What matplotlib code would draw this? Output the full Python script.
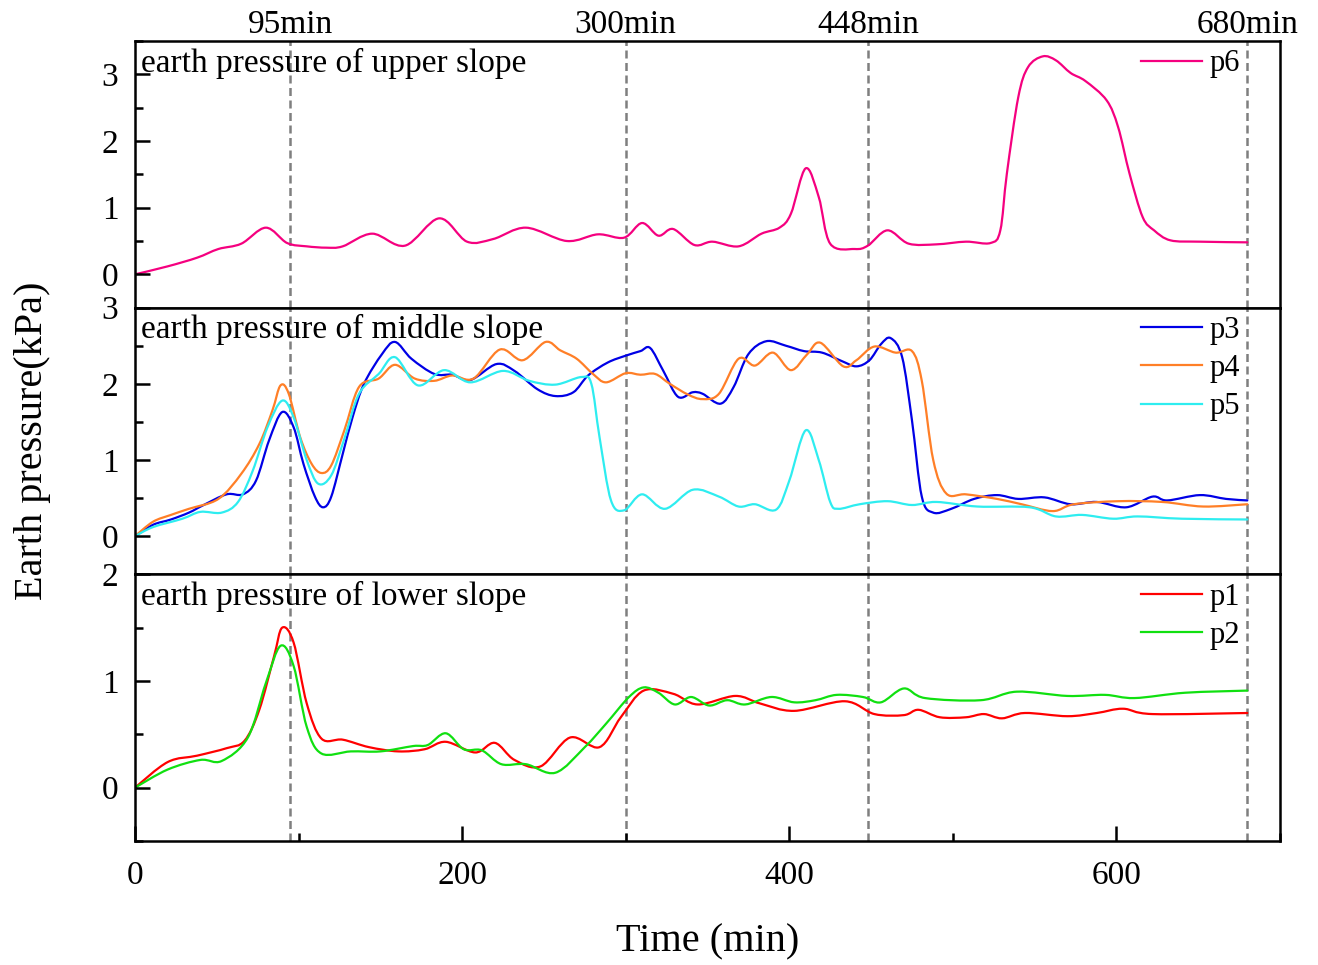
import numpy as np
import matplotlib
matplotlib.use('Agg')
import matplotlib.pyplot as plt
from matplotlib.ticker import MultipleLocator
from matplotlib.path import Path
from matplotlib.patches import PathPatch
from matplotlib.lines import Line2D
import matplotlib.transforms as mtransforms

plt.rcParams['font.family'] = ['Liberation Serif', 'DejaVu Serif']

# upper slope
t_p6 = [0, 20, 38, 51, 65, 80, 93, 105, 117, 127, 145, 165, 186, 203, 219, 239, 264, 283, 299,
        310, 320, 329, 342, 353, 369, 383, 394, 401, 410, 418, 425, 440, 448, 460, 473, 490, 508,
        523, 529, 533, 540, 546, 555, 563, 572, 581, 594, 601, 608, 616, 623, 633, 651, 680]
p6 = [0.0, 0.12, 0.25, 0.38, 0.46, 0.70, 0.47, 0.42, 0.40, 0.42, 0.61, 0.43, 0.84, 0.49, 0.53,
      0.70, 0.50, 0.60, 0.55, 0.77, 0.58, 0.68, 0.44, 0.49, 0.42, 0.61, 0.70, 0.91, 1.59, 1.16,
      0.46, 0.38, 0.43, 0.66, 0.46, 0.45, 0.49, 0.47, 0.66, 1.51, 2.66, 3.11, 3.27, 3.21, 3.02,
      2.90, 2.61, 2.21, 1.51, 0.86, 0.66, 0.51, 0.49, 0.48]

# middle slope
t_p3 = [0, 11, 22, 33, 42, 56, 66, 74, 82, 90, 97, 103, 110, 115, 120, 127, 133, 140, 151, 159,
        169, 183, 194, 205, 221, 232, 246, 257, 268, 277, 289, 300, 309, 315, 323, 332, 341, 347,
        358, 366, 375, 386, 398, 409, 420, 432, 441, 449, 456, 462, 469, 475, 481, 488, 499, 513,
        527, 540, 556, 572, 588, 606, 622, 631, 651, 667, 680]
p3 = [0.0, 0.15, 0.22, 0.31, 0.41, 0.55, 0.55, 0.73, 1.26, 1.63, 1.43, 0.95, 0.52, 0.38, 0.52,
      1.08, 1.56, 2.00, 2.39, 2.55, 2.33, 2.13, 2.12, 2.05, 2.26, 2.17, 1.93, 1.84, 1.89, 2.11,
      2.28, 2.37, 2.43, 2.47, 2.17, 1.83, 1.89, 1.87, 1.74, 1.96, 2.39, 2.56, 2.50, 2.43, 2.41,
      2.30, 2.23, 2.31, 2.52, 2.60, 2.35, 1.52, 0.52, 0.31, 0.36, 0.49, 0.54, 0.49, 0.51, 0.42,
      0.45, 0.38, 0.52, 0.47, 0.54, 0.49, 0.47]

t_p4 = [0, 11, 22, 33, 51, 65, 76, 84, 89, 94, 101, 108, 114, 120, 128, 137, 149, 159, 171,
        183, 194, 207, 223, 237, 251, 260, 270, 280, 288, 300, 309, 318, 327, 338, 347, 357, 369,
        379, 390, 401, 411, 419, 433, 441, 452, 465, 475, 481, 488, 496, 508, 527, 542, 561, 574,
        601, 628, 653, 680]
p4 = [0.0, 0.19, 0.28, 0.36, 0.49, 0.82, 1.21, 1.65, 1.98, 1.87, 1.30, 0.95, 0.83, 0.93, 1.39,
      1.96, 2.07, 2.25, 2.07, 2.04, 2.11, 2.07, 2.45, 2.31, 2.55, 2.44, 2.33, 2.13, 2.02, 2.14,
      2.12, 2.13, 2.00, 1.86, 1.80, 1.87, 2.33, 2.24, 2.41, 2.18, 2.39, 2.54, 2.23, 2.31, 2.49,
      2.41, 2.43, 2.04, 1.00, 0.56, 0.55, 0.49, 0.42, 0.33, 0.42, 0.46, 0.45, 0.39, 0.42]

t_p5 = [0, 11, 29, 40, 53, 63, 72, 81, 90, 97, 105, 112, 120, 128, 137, 149, 159, 173, 189,
        205, 225, 241, 257, 273, 279, 284, 291, 299, 310, 324, 341, 357, 369, 379, 392, 400, 410,
        418, 425, 430, 443, 460, 475, 490, 515, 547, 563, 579, 598, 613, 640, 680]
p5 = [0.0, 0.12, 0.23, 0.32, 0.31, 0.45, 0.86, 1.43, 1.78, 1.56, 1.00, 0.69, 0.80, 1.28, 1.87,
      2.13, 2.35, 1.98, 2.18, 2.02, 2.17, 2.04, 1.99, 2.09, 2.00, 1.30, 0.47, 0.34, 0.55, 0.36,
      0.61, 0.52, 0.39, 0.42, 0.35, 0.73, 1.39, 1.00, 0.45, 0.36, 0.42, 0.46, 0.41, 0.45, 0.39,
      0.38, 0.26, 0.28, 0.23, 0.26, 0.23, 0.22]

# lower slope
t_p1 = [0, 20, 38, 56, 67, 76, 85, 90, 97, 105, 114, 127, 143, 161, 177, 190, 208, 220, 232,
        248, 266, 284, 297, 311, 329, 344, 367, 382, 403, 434, 452, 470, 479, 492, 508, 519, 530,
        544, 570, 588, 604, 622, 680]
p1 = [0.0, 0.24, 0.30, 0.37, 0.44, 0.73, 1.23, 1.50, 1.36, 0.79, 0.46, 0.45, 0.38, 0.34, 0.36,
      0.43, 0.33, 0.42, 0.26, 0.20, 0.47, 0.38, 0.66, 0.91, 0.88, 0.78, 0.86, 0.79, 0.72, 0.81,
      0.69, 0.68, 0.73, 0.66, 0.66, 0.69, 0.65, 0.70, 0.67, 0.70, 0.74, 0.69, 0.70]

t_p2 = [0, 20, 40, 53, 69, 80, 89, 97, 105, 114, 132, 150, 170, 179, 190, 201, 212, 224, 239,
        257, 275, 288, 302, 311, 320, 330, 340, 351, 362, 373, 389, 403, 416, 429, 445, 456, 470,
        483, 517, 539, 570, 593, 611, 642, 680]
p2 = [0.0, 0.17, 0.26, 0.25, 0.47, 0.98, 1.33, 1.14, 0.57, 0.32, 0.34, 0.34, 0.39, 0.40, 0.51,
      0.36, 0.35, 0.22, 0.22, 0.14, 0.38, 0.60, 0.85, 0.94, 0.89, 0.78, 0.85, 0.77, 0.82, 0.78,
      0.85, 0.80, 0.82, 0.87, 0.85, 0.80, 0.93, 0.84, 0.82, 0.90, 0.86, 0.87, 0.84, 0.89, 0.91]

marks = [95, 300, 448, 680]
mark_labels = ['95min', '300min', '448min', '680min']

panels = [
    ('earth pressure of upper slope', [(t_p6, p6, '#F5007F', 'p6')], (-0.5, 3.5)),
    ('earth pressure of middle slope', [(t_p3, p3, '#0000E6', 'p3'),
                                        (t_p4, p4, '#FF7F27', 'p4'),
                                        (t_p5, p5, '#2EEDF0', 'p5')], (-0.5, 3.0)),
    ('earth pressure of lower slope', [(t_p1, p1, '#FF0000', 'p1'),
                                       (t_p2, p2, '#10E010', 'p2')], (-0.5, 2.0)),
]


def spline_path(x, y):
    # smooth (Catmull-Rom style) connection through the read points, like Origin's spline line
    p = np.column_stack([x, y]).astype(float)
    pe = np.vstack([p[0], p, p[-1]])
    verts = [p[0]]
    codes = [Path.MOVETO]
    for i in range(len(p) - 1):
        c1 = pe[i + 1] + (pe[i + 2] - pe[i]) / 6.0
        c2 = pe[i + 2] - (pe[i + 3] - pe[i + 1]) / 6.0
        verts += [c1, c2, p[i + 1]]
        codes += [Path.CURVE4] * 3
    return Path(verts, codes)


fig, axes = plt.subplots(3, 1, figsize=(13.18, 9.65), dpi=100, sharex=True)
fig.subplots_adjust(left=0.1024, right=0.9712, top=0.9575, bottom=0.1285, hspace=0)

for ax, (title, series, ylim) in zip(axes, panels):
    handles = []
    for t, v, c, lab in series:
        ax.add_patch(PathPatch(spline_path(t, v), facecolor='none', edgecolor=c, lw=1.6,
                               capstyle='round', joinstyle='round'))
        handles.append(Line2D([], [], color=c, lw=1.6, label=lab))
    for m in marks:
        ax.axvline(m, color='#7f7f7f', lw=1.8, ls=(0, (3.2, 1.8)), zorder=0)
    ax.set_ylim(*ylim)
    ax.set_xlim(0, 700)
    ax.yaxis.set_major_locator(MultipleLocator(1))
    ax.yaxis.set_minor_locator(MultipleLocator(0.5))
    ax.tick_params(axis='y', which='both', direction='in', left=True, right=False,
                   labelsize=24, pad=12, width=1.8)
    ax.tick_params(axis='y', which='major', length=11)
    ax.tick_params(axis='y', which='minor', length=6)
    for s in ax.spines.values():
        s.set_linewidth(1.8)
    ax.text(0.005, 0.975, title, transform=ax.transAxes, ha='left', va='top', fontsize=24)
    ax.legend(handles=handles, loc='upper right', bbox_to_anchor=(0.976, 1.015), frameon=False,
              fontsize=22, handlelength=2.0, handletextpad=0.25, labelspacing=0.3,
              borderaxespad=0.0)

bottom = axes[-1]
bottom.xaxis.set_major_locator(MultipleLocator(200))
bottom.xaxis.set_minor_locator(MultipleLocator(100))
bottom.tick_params(axis='x', which='both', direction='in', top=False, labelsize=24, pad=14,
                   width=1.8)
bottom.tick_params(axis='x', which='major', length=11)
bottom.tick_params(axis='x', which='minor', length=6)
for ax in axes[:-1]:
    ax.tick_params(axis='x', which='both', bottom=False, top=False)

top = axes[0]
trans = mtransforms.blended_transform_factory(top.transData, top.transAxes)
for m, lab in zip(marks, mark_labels):
    top.text(m, 1.005, lab, transform=trans, ha='center', va='bottom', fontsize=24)

fig.text(0.537, 0.0238, 'Time (min)', ha='center', va='center', fontsize=29)
fig.text(0.025, 0.543, 'Earth pressure(kPa)', ha='center', va='center', rotation=90, fontsize=29)

fig.savefig('out.png', dpi=100)
